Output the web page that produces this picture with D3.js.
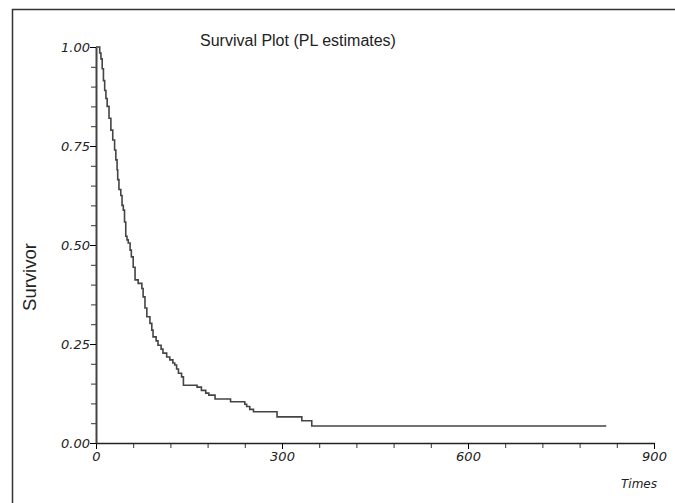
<!DOCTYPE html>
<html>
<head>
<meta charset="utf-8">
<script src="https://cdn.jsdelivr.net/npm/d3@7"></script>
<style>
  body { margin: 0; background: #fff; }
  .tick text { font-family: "DejaVu Sans", sans-serif; font-style: italic; }
</style>
</head>
<body>
<div id="graphic"></div>
<script>
// Kaplan-Meier steps
const times = [0, 6, 8, 10, 12, 14, 16, 18, 21, 24, 27, 30, 32, 34, 35, 37, 40, 42, 44, 46, 48, 50, 52, 55, 57, 60,
    63, 68, 74, 76, 79, 82, 87, 90, 92, 97, 100, 105, 108, 114, 119, 124, 127, 130, 133, 138, 141, 163, 170, 177,
    182, 192, 217, 240, 243, 248, 254, 292, 332, 348, 823]
const survival = [1.000, 0.985, 0.970, 0.945, 0.915, 0.890, 0.870, 0.850, 0.820, 0.790, 0.765, 0.740, 0.715, 0.690,
    0.665, 0.640, 0.625, 0.600, 0.588, 0.558, 0.522, 0.513, 0.505, 0.487, 0.470, 0.444, 0.412, 0.403, 0.390, 0.369,
    0.341, 0.319, 0.302, 0.285, 0.268, 0.258, 0.247, 0.237, 0.227, 0.217, 0.210, 0.202, 0.197, 0.187, 0.176, 0.167,
    0.146, 0.141, 0.133, 0.126, 0.121, 0.111, 0.104, 0.098, 0.092, 0.085, 0.079, 0.066, 0.056, 0.043, 0.043]
const xTicks = [0, 300, 600, 900]
const yTicks = [0, 0.25, 0.5, 0.75, 1]

const chartWidth = 675
const chartHeight = 503
const margin = { top: 47, right: 21, bottom: 60, left: 96 }
const width = chartWidth - margin.left - margin.right
const height = chartHeight - margin.top - margin.bottom

const svg = d3.select("#graphic").append("svg")
    .attr("width", chartWidth)
    .attr("height", chartHeight)

// frame lines (top and left only)
svg.append("path")
    .attr("d", "M12.5,503V9.5H675")
    .attr("fill", "none")
    .attr("stroke", "#333")
    .attr("stroke-width", 1.5)

svg.append("text")
    .attr("x", 298)
    .attr("y", 46)
    .attr("text-anchor", "middle")
    .attr("font-family", "Liberation Sans, Arial, sans-serif")
    .attr("font-size", 16)
    .attr("fill", "#222")
    .text("Survival Plot (PL estimates)")

const g = svg.append("g")
    .attr("transform", "translate(" + margin.left + "," + margin.top + ")")

const x = d3.scaleLinear().domain([0, 900]).range([0, width])
const y = d3.scaleLinear().domain([0, 1]).range([height, 0])

// minor ticks
g.append("g")
    .attr("transform", "translate(0," + height + ")")
    .call(d3.axisBottom(x).tickValues(d3.range(0, 901, 60)).tickSize(5).tickFormat(""))
    .call(a => a.select(".domain").remove())
    .selectAll("line").attr("stroke", "#333")
g.append("g")
    .call(d3.axisLeft(y).tickValues(d3.range(0, 21).map(i => i / 20)).tickSize(5).tickFormat(""))
    .call(a => a.select(".domain").remove())
    .selectAll("line").attr("stroke", "#333")

const xAxis = g.append("g")
    .attr("transform", "translate(0," + height + ")")
    .call(d3.axisBottom(x).tickValues(xTicks).tickSize(6).tickSizeOuter(0).tickPadding(3))
xAxis.select(".domain").attr("stroke", "#222").attr("stroke-width", 1.5)
xAxis.selectAll("text").attr("font-size", 13).attr("fill", "#222")

const yAxis = g.append("g")
    .call(d3.axisLeft(y).tickValues(yTicks).tickSize(6).tickSizeOuter(0).tickPadding(0).tickFormat(d3.format(".2f")))
yAxis.select(".domain").attr("stroke", "#444").attr("stroke-width", 2)
yAxis.selectAll("text").attr("font-size", 13).attr("fill", "#222")

const line = d3.line()
    .x((d, i) => x(times[i]))
    .y(d => y(d))
    .curve(d3.curveStepAfter)

g.append("path")
    .datum(survival)
    .attr("d", line)
    .attr("fill", "none")
    .attr("stroke", "#444")
    .attr("stroke-width", 1.6)

svg.append("text")
    .attr("transform", "translate(36,277) rotate(-90)")
    .attr("text-anchor", "middle")
    .attr("font-family", "Liberation Sans, Arial, sans-serif")
    .attr("font-size", 18.5)
    .attr("fill", "#222")
    .text("Survivor")

svg.append("text")
    .attr("x", 657)
    .attr("y", 488)
    .attr("text-anchor", "end")
    .attr("font-family", "DejaVu Sans, sans-serif")
    .attr("font-style", "italic")
    .attr("font-size", 12)
    .attr("fill", "#222")
    .text("Times")
</script>
</body>
</html>
